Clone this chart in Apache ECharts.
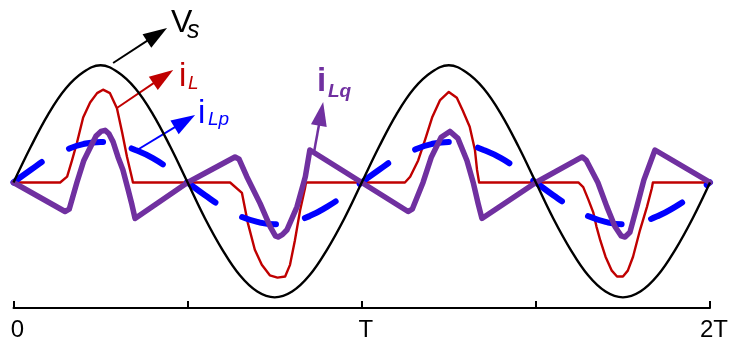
<!DOCTYPE html>
<html>
<head>
<meta charset="utf-8">
<script src="https://cdn.jsdelivr.net/npm/echarts@6/dist/echarts.min.js"></script>
<style>
  html, body { margin: 0; padding: 0; background: #fff; }
  #chart { width: 739px; height: 347px; }
</style>
</head>
<body>
<div id="chart"></div>
<script>
// time in units of T, values normalised to the Vs peak
const tGrid = [0, 0.05, 0.1, 0.15, 0.2, 0.25, 0.3, 0.35, 0.4, 0.45, 0.5, 0.55, 0.6, 0.65, 0.7, 0.75, 0.8, 0.85, 0.9, 0.95,
  1, 1.05, 1.1, 1.15, 1.2, 1.25, 1.3, 1.35, 1.4, 1.45, 1.5, 1.55, 1.6, 1.65, 1.7, 1.75, 1.8, 1.85, 1.9, 1.95, 2]

const vsValues = [0, 0.31, 0.59, 0.81, 0.95, 1.01, 0.95, 0.81, 0.59, 0.31, 0, -0.31, -0.58, -0.80, -0.94, -0.99, -0.94, -0.80, -0.58, -0.31,
  0, 0.31, 0.59, 0.81, 0.95, 1.01, 0.95, 0.81, 0.59, 0.31, 0, -0.31, -0.58, -0.80, -0.94, -0.99, -0.94, -0.80, -0.58, -0.31, 0]

const iLpValues = [0, 0.11, 0.21, 0.28, 0.33, 0.35, 0.33, 0.28, 0.21, 0.11, 0, -0.11, -0.21, -0.29, -0.34, -0.36, -0.34, -0.29, -0.21, -0.11,
  0, 0.11, 0.21, 0.28, 0.33, 0.35, 0.33, 0.28, 0.21, 0.11, 0, -0.11, -0.21, -0.29, -0.34, -0.36, -0.34, -0.29, -0.21, -0.11, 0]

const iLPoints = [
  [0, 0], [0.134, 0], [0.154, 0.05], [0.168, 0.19], [0.182, 0.34], [0.200, 0.56], [0.220, 0.69], [0.240, 0.77],
  [0.257, 0.80], [0.277, 0.77], [0.297, 0.64], [0.312, 0.43], [0.326, 0.22], [0.340, 0.04], [0.343, 0],
  [0.622, 0], [0.656, -0.09], [0.673, -0.35], [0.693, -0.58], [0.713, -0.71], [0.736, -0.80], [0.758, -0.82],
  [0.780, -0.81], [0.794, -0.71], [0.808, -0.50], [0.823, -0.24], [0.837, -0.05], [0.840, 0],
  [1.124, 0], [1.139, 0.05], [1.162, 0.19], [1.182, 0.37], [1.202, 0.56], [1.225, 0.71], [1.250, 0.78],
  [1.273, 0.73], [1.290, 0.62], [1.310, 0.48], [1.325, 0.28], [1.331, 0.11], [1.337, 0],
  [1.622, 0], [1.636, -0.04], [1.651, -0.15], [1.665, -0.26], [1.674, -0.38], [1.685, -0.50], [1.700, -0.64],
  [1.718, -0.76], [1.733, -0.81], [1.750, -0.81], [1.764, -0.76], [1.779, -0.64], [1.799, -0.41], [1.819, -0.21],
  [1.833, -0.05], [1.836, 0], [2, 0]
]

const iLqPoints = [
  [0, 0], [0.148, -0.25], [0.160, -0.23], [0.182, 0], [0.202, 0.19], [0.220, 0.30], [0.237, 0.40], [0.251, 0.44],
  [0.263, 0.45], [0.274, 0.42], [0.286, 0.35], [0.300, 0.22], [0.314, 0.11], [0.329, -0.06], [0.340, -0.19],
  [0.349, -0.31], [0.5, 0], [0.636, 0.22], [0.648, 0.20], [0.670, 0.05], [0.708, -0.18], [0.737, -0.38],
  [0.752, -0.46], [0.760, -0.47], [0.772, -0.45], [0.785, -0.41], [0.814, -0.21], [0.838, 0.05], [0.851, 0.28],
  [1.0, 0], [1.133, -0.25], [1.145, -0.23], [1.176, 0], [1.200, 0.22], [1.228, 0.39], [1.253, 0.44], [1.276, 0.38],
  [1.302, 0.19], [1.320, 0], [1.334, -0.18], [1.345, -0.31], [1.5, 0], [1.633, 0.22], [1.645, 0.19], [1.678, 0],
  [1.704, -0.21], [1.727, -0.38], [1.745, -0.46], [1.756, -0.47], [1.770, -0.43], [1.790, -0.21], [1.810, 0.02],
  [1.842, 0.28], [2, 0]
]

const tickLabels = { 0: "0", 1: "T", 2: "2T" }

// annotation arrows: [tail, head] in data units
const arrowVs = [[0.286, 1.03], [0.412, 1.276]]
const arrowIL = [[0.297, 0.642], [0.430, 0.912]]
const arrowILp = [[0.355, 0.28], [0.492, 0.528]]
const arrowILq = [[0.863, 0.263], [0.883, 0.592]]

const FONT = '"Liberation Sans", Arial, sans-serif'

const zip = (ts, vs) => ts.map((t, i) => [t, vs[i]])

const arrowMark = (pts, color, width) => ({
  silent: true,
  symbol: ["none", "triangle"],
  symbolSize: [16, 24],
  label: { show: false },
  lineStyle: { color: color, width: width, type: "solid" },
  emphasis: { disabled: true },
  data: [[{ coord: pts[0] }, { coord: pts[1] }]]
})

const chart = echarts.init(document.getElementById("chart"))

const label = (text, x, y, font, color) => ({
  type: "text", x: x, y: y, silent: true,
  style: { text: text, font: font, fill: color, align: "left", verticalAlign: "middle" }
})

chart.setOption({
  animation: false,
  grid: { left: 13.5, right: 29, top: 0, bottom: 39 },
  xAxis: {
    type: "value", min: 0, max: 2, interval: 0.5,
    axisLine: { onZero: false, lineStyle: { color: "#000", width: 2 } },
    axisTick: { inside: true, length: 7, lineStyle: { color: "#000", width: 2 } },
    splitLine: { show: false },
    axisLabel: {
      margin: 10, color: "#000", fontSize: 24, fontFamily: FONT,
      padding: [0, 0, 0, 8],
      formatter: (v) => tickLabels[v] || ""
    }
  },
  yAxis: { type: "value", min: -1.082, max: 1.573, show: false },
  series: [
    {
      name: "iL", type: "line", data: iLPoints, showSymbol: false, z: 2,
      lineStyle: { color: "#C00000", width: 2.4, join: "round" },
      markLine: arrowMark(arrowIL, "#C00000", 2)
    },
    {
      name: "iLp", type: "line", data: zip(tGrid, iLpValues), smooth: true, showSymbol: false, z: 3,
      lineStyle: { color: "#0000FF", width: 6, type: [35, 30], cap: "round" },
      markLine: arrowMark(arrowILp, "#0000FF", 2)
    },
    {
      name: "iLq", type: "line", data: iLqPoints, showSymbol: false, z: 4,
      lineStyle: { color: "#7030A0", width: 5.5, join: "round", cap: "round" },
      markLine: arrowMark(arrowILq, "#7030A0", 2.5)
    },
    {
      name: "Vs", type: "line", data: zip(tGrid, vsValues), smooth: 0.4, showSymbol: false, z: 5,
      lineStyle: { color: "#000", width: 2.4 },
      markLine: arrowMark(arrowVs, "#000", 2)
    }
  ],
  graphic: [
    label("V", 171, 23, "32px " + FONT, "#000"),
    label("s", 187, 31, "italic 25px " + FONT, "#000"),
    label("i", 179, 77, "33px " + FONT, "#C00000"),
    label("L", 188, 84, "italic 19px " + FONT, "#C00000"),
    label("i", 198, 114, "33px " + FONT, "#0000FF"),
    label("Lp", 208, 120, "italic 19px " + FONT, "#0000FF"),
    label("i", 317, 82, "bold 33px " + FONT, "#7030A0"),
    label("Lq", 328, 92, "bold italic 19px " + FONT, "#7030A0")
  ]
})
</script>
</body>
</html>
